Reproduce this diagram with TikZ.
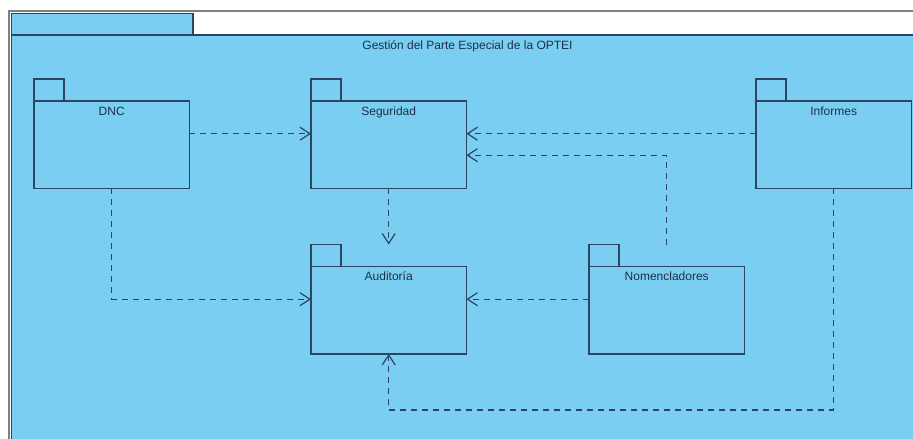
\documentclass[tikz,border=0pt]{standalone}
\usepackage{fontspec}
\setmainfont{Liberation Sans}
\usetikzlibrary{arrows.meta,calc}

\definecolor{pkgfill}{RGB}{122,206,242}
\definecolor{pkgline}{RGB}{42,70,98}
\definecolor{pkgtext}{RGB}{30,48,72}
\definecolor{framegray}{RGB}{128,128,128}

\tikzset{
  pkgbox/.style={minimum width=155pt, minimum height=109pt, inner sep=0pt,
    anchor=north west},
  pkgshape/.style={draw=pkgline, fill=pkgfill, line width=1.2pt},
  pkglabel/.style={anchor=base, inner sep=0pt, text=pkgtext,
    font=\fontsize{12}{14}\selectfont},
  dep/.style={draw=pkgline, line width=1.2pt, dash pattern=on 6pt off 5pt,
    -{Straight Barb[length=10pt,width=13pt]}},
}

\begin{document}
\begin{tikzpicture}[x=1pt, y=-1pt]
  \useasboundingbox (0,0) rectangle (913,439);
  \fill[white] (0,0) rectangle (913,439);

  % outer frame of the diagram window
  \draw[framegray, line width=2pt] (8.5,440) -- (8.5,10.5) -- (914,10.5);

  % enclosing package: tab and body
  \fill[pkgfill] (11.5,35) rectangle (914,440);
  \filldraw[pkgshape] (11.5,13.5) rectangle (193,35);
  \draw[pkgline, line width=1.2pt] (11.5,440) -- (11.5,35) -- (914,35);
  \node[pkglabel] (title) at (467.5,49.5) {Gestión del Parte Especial de la OPTEI};

  % package placeholders (tab + body)
  \node[pkgbox] (dnc) at (34,79) {};
  \node[pkgbox] (seg) at (311,79) {};
  \node[pkgbox] (inf) at (756,79) {};
  \node[pkgbox] (aud) at (311,244.5) {};
  \node[pkgbox] (nom) at (589,244.5) {};

  \foreach \n in {dnc,seg,inf,aud,nom}{
    \filldraw[pkgshape] (\n.north west) rectangle ($(\n.north west)+(30,22)$);
    \filldraw[pkgshape] ($(\n.north west)+(0,22)$) rectangle (\n.south east);
  }

  \node[pkglabel] (dnc-l) at ($(dnc.north)+(0,36)$) {DNC};
  \node[pkglabel] (seg-l) at ($(seg.north)+(0,36)$) {Seguridad};
  \node[pkglabel] (inf-l) at ($(inf.north)+(0,36)$) {Informes};
  \node[pkglabel] (aud-l) at ($(aud.north)+(0,36)$) {Auditoría};
  \node[pkglabel] (nom-l) at ($(nom.north)+(0,36)$) {Nomencladores};

  % dependencies
  \draw[dep] (dnc.east) -- (seg.west);
  \draw[dep] (inf.west) -- (seg.east);
  \draw[dep] (nom.north) |- ($(seg.east)+(0,21.5)$);
  \draw[dep] (seg.south) -- (aud.north);
  \draw[dep] (dnc.south) |- (aud.west);
  \draw[dep] (nom.west) -- (aud.east);
  \draw[dep] (inf.south) |- ($(aud.south)+(0,56)$) -- (aud.south);
\end{tikzpicture}
\end{document}
